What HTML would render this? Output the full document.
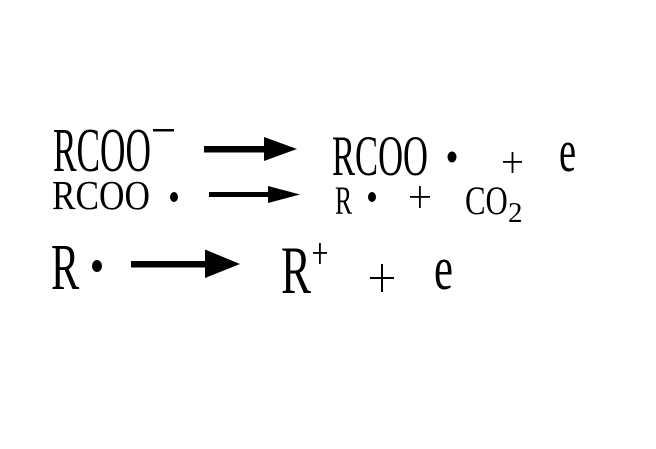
<!DOCTYPE html>
<html><head><meta charset="utf-8"><style>
html,body{margin:0;padding:0;background:#fff;width:656px;height:449px;overflow:hidden;position:relative}
.t{position:absolute;font-family:"Liberation Serif","Times New Roman",serif;line-height:normal;white-space:nowrap;transform-origin:0 0;color:#000}
svg{position:absolute;left:0;top:0}
</style></head><body>
<svg width="656" height="449" viewBox="0 0 656 449" xmlns="http://www.w3.org/2000/svg" fill="#000">
<rect x="153" y="129" width="21" height="2.5"/>
<rect x="204" y="146" width="66" height="6.5"/>
<polygon points="264,137 297,149 264,161"/>
<ellipse cx="452" cy="157" rx="4.5" ry="5.5"/>
<rect x="503" y="161" width="19" height="1.8"/>
<rect x="511.6" y="152" width="1.8" height="21"/>
<ellipse cx="174" cy="197" rx="4" ry="5"/>
<rect x="209" y="192" width="64" height="5"/>
<polygon points="268,186 300,194.5 268,203"/>
<ellipse cx="372" cy="197" rx="4" ry="5"/>
<rect x="410" y="196" width="20" height="1.8"/>
<rect x="419" y="186" width="1.8" height="22"/>
<ellipse cx="97" cy="266" rx="5" ry="6"/>
<rect x="131" y="261" width="78" height="6.5"/>
<polygon points="205,249.5 240,264 205,278"/>
<rect x="313" y="252" width="14" height="1.8"/>
<rect x="319" y="243" width="1.8" height="21"/>
<rect x="370" y="277" width="24" height="2"/>
<rect x="381" y="264" width="2" height="28"/>
</svg>
<div class="t" style="left:53px;top:115.8px;font-size:62px;transform:scaleX(0.569)">RCOO</div>
<div class="t" style="left:332px;top:124.2px;font-size:57px;transform:scaleX(0.606)">RCOO</div>
<div class="t" style="left:559px;top:116.5px;font-size:60px;transform:scaleX(0.64)">e</div>
<div class="t" style="left:52px;top:170.5px;font-size:41px;transform:scaleX(0.86)">RCOO</div>
<div class="t" style="left:335px;top:177.4px;font-size:40px;transform:scaleX(0.64)">R</div>
<div class="t" style="left:465px;top:177.4px;font-size:40px;transform:scaleX(0.77)">CO</div>
<div class="t" style="left:508px;top:197.2px;font-size:29px;transform:scaleX(1)">2</div>
<div class="t" style="left:51px;top:230.2px;font-size:66px;transform:scaleX(0.64)">R</div>
<div class="t" style="left:281px;top:231.4px;font-size:68px;transform:scaleX(0.66)">R</div>
<div class="t" style="left:434px;top:233.8px;font-size:62px;transform:scaleX(0.69)">e</div>
</body></html>
